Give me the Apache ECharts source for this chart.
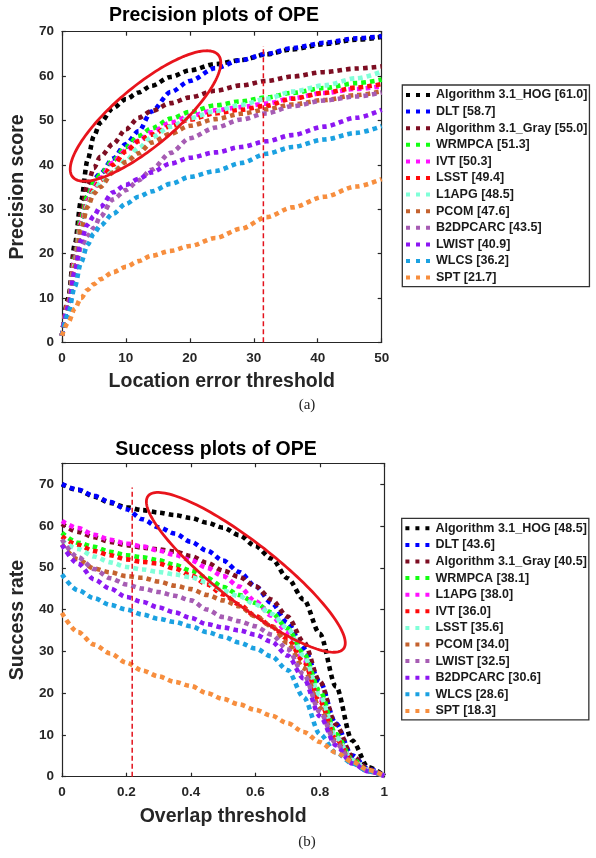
<!DOCTYPE html>
<html>
<head>
<meta charset="utf-8">
<script src="https://cdn.jsdelivr.net/npm/echarts@6/dist/echarts.min.js"></script>
<style>
  html, body { margin: 0; padding: 0; background: #fff; }
  #main { width: 596px; height: 858px; }
</style>
</head>
<body>
<div id="main"></div>
<script>
// ---- (a) precision plot data ----
var precThreshold = [0, 1, 2, 3, 4, 5, 6, 8, 10, 12, 14, 17, 20, 24, 28, 32, 36, 41, 46, 50];
var precHOG      = [1.5, 10, 22, 32, 41, 46.5, 49.5, 52.8, 54.8, 56.3, 57.8, 59.8, 61.3, 62.7, 63.6, 64.9, 66.0, 67.2, 68.2, 68.8];
var precDLT      = [1.5, 9, 19, 28, 33, 36.8, 38, 41.4, 44.7, 47.6, 52.0, 56.4, 58.9, 61.8, 63.6, 65.0, 66.3, 67.5, 68.5, 69.0];
var precGray     = [1.5, 9.5, 20.5, 29, 35.5, 39.3, 41.8, 44.7, 48.0, 50.6, 52.1, 53.9, 55.2, 56.7, 57.9, 58.9, 59.9, 60.9, 61.7, 62.2];
var precWRMPCA   = [1.5, 9, 19, 28, 33, 36, 37.8, 41, 44, 46.5, 48.2, 50.4, 51.9, 53.4, 54.3, 55.2, 56.2, 57.3, 58.4, 59.2];
var precIVT      = [1.5, 9, 18.5, 27, 32, 35, 37, 40.5, 43.3, 45.5, 47.3, 49.5, 51, 52.3, 53, 53.8, 55, 56.2, 57.1, 57.7];
var precLSST     = [1.5, 9, 18, 26.5, 31.5, 34.5, 36.5, 40, 43, 45.3, 46.8, 48.7, 50.2, 51.6, 52.4, 53.3, 54.9, 56.2, 57.4, 58.2];
var precL1APG    = [1.5, 8.5, 17.5, 26, 31, 34, 36, 38.5, 41, 43.8, 46.2, 48.6, 50.5, 52.1, 53.5, 54.9, 56.5, 57.9, 59.5, 61.0];
var precPCOM     = [1.5, 8.5, 17, 25.5, 30.5, 33.5, 35, 38.3, 40.6, 42.6, 45, 47, 48.8, 50.3, 51.5, 52.5, 53.6, 54.6, 55.7, 56.6];
var precB2DPCARC = [1.5, 8, 15.5, 21.5, 24, 25.8, 28.3, 32.2, 34.3, 36.5, 38.9, 42.7, 46, 48.4, 50.2, 51.6, 53.2, 54.5, 55.4, 56.3];
var precLWIST    = [1.5, 8, 16, 23, 26.5, 28.5, 30.5, 33.8, 35.5, 36.8, 38.3, 40.3, 41.6, 42.8, 44, 45.3, 46.7, 48.6, 50.6, 52.4];
var precWLCS     = [1.5, 6.5, 12.5, 18, 22, 24.5, 26.3, 29, 31.2, 32.8, 34, 35.7, 37.3, 38.6, 40.4, 42.5, 44.0, 45.7, 47.2, 48.7];
var precSPT      = [1.5, 4.5, 7.5, 10, 11.8, 13.1, 14.2, 15.8, 17, 18.3, 19.5, 20.6, 21.7, 23.5, 25.6, 28.2, 30.4, 32.8, 35.1, 36.8];
var precLegend = ['Algorithm 3.1_HOG [61.0]', 'DLT [58.7]', 'Algorithm 3.1_Gray [55.0]', 'WRMPCA [51.3]',
  'IVT [50.3]', 'LSST [49.4]', 'L1APG [48.5]', 'PCOM [47.6]', 'B2DPCARC [43.5]', 'LWIST [40.9]', 'WLCS [36.2]', 'SPT [21.7]'];
var precSeries = [precHOG, precDLT, precGray, precWRMPCA, precIVT, precLSST, precL1APG, precPCOM, precB2DPCARC, precLWIST, precWLCS, precSPT];

// ---- (b) success plot data ----
var succThreshold = [0, 0.05, 0.1, 0.15, 0.2, 0.25, 0.3, 0.35, 0.4, 0.45, 0.5, 0.55, 0.6, 0.65, 0.7, 0.75, 0.8, 0.85, 0.9, 0.95, 1];
var succHOG      = [70, 68.6, 67, 65.5, 64.5, 63.8, 63.2, 62.6, 61.9, 60.8, 59.6, 57.8, 55.2, 52.2, 47.5, 42.4, 34.2, 21.6, 8.7, 2.3, 0.2];
var succDLT      = [70, 68.7, 67.2, 65.7, 64, 61.6, 59.7, 58.2, 56.2, 54.1, 51.7, 49, 45.6, 41.6, 36.8, 30.7, 22.8, 12.7, 5.1, 1.9, 0.2];
var succGray     = [60.5, 58.6, 57.3, 56.2, 55.4, 54.8, 54.4, 53.9, 52.8, 51.2, 49.3, 47.8, 45.6, 42.4, 38.3, 32.3, 22.8, 12.5, 5, 1.8, 0.2];
var succWRMPCA   = [58.4, 56, 55, 53.8, 53, 52.5, 51.8, 50.7, 49.3, 47.6, 45.4, 43.5, 41.6, 39.3, 35.5, 29.5, 20.5, 10.2, 4.2, 1.5, 0.2];
var succL1APG    = [61.2, 59.5, 57.9, 56.7, 55.8, 55.1, 54.1, 53.1, 51.8, 50, 48, 45.5, 42, 38.5, 34.5, 28, 18.5, 9.5, 4, 1.5, 0.2];
var succIVT      = [57.5, 55.5, 54, 53, 52, 51.4, 51, 49.8, 48.2, 46, 43.6, 41.2, 38.5, 36, 33, 27.5, 18, 9, 3.8, 1.4, 0.2];
var succLSST     = [56.5, 54.5, 52.7, 51.3, 50.2, 49.6, 49, 48.4, 47.7, 46.5, 44.5, 43.2, 41.2, 39, 35.5, 29, 19.5, 9.5, 4, 1.5, 0.2];
var succPCOM     = [55.6, 52, 49.8, 48.9, 48, 47.6, 46.7, 45.7, 44.9, 43.5, 42.2, 40.8, 38.4, 36, 32, 26, 16.5, 8.5, 3.6, 1.4, 0.2];
var succLWIST    = [56.8, 52.5, 49.7, 47.5, 46, 45, 44.2, 43.3, 42.2, 40, 38.2, 37.2, 36, 34, 30.5, 24.5, 15.5, 8, 3.4, 1.3, 0.2];
var succB2DPCARC = [55.5, 51, 47.2, 45, 43, 41.8, 40.5, 39.3, 38, 36.5, 35.7, 35, 34, 32.3, 29, 23.5, 14.5, 7.5, 3.2, 1.3, 0.2];
var succWLCS     = [48.4, 44.6, 42.7, 41.1, 40, 38.8, 37.8, 37, 36, 34.6, 33.5, 32.1, 30.7, 28.8, 25.5, 19, 10.2, 5.8, 3.2, 1.3, 0.2];
var succSPT      = [39.2, 34.6, 31.6, 29.5, 27.3, 25.4, 24, 22.7, 21.7, 20, 18.6, 17.3, 16, 14.6, 12.8, 10.7, 8.3, 5.8, 3.6, 1.6, 0.2];
var succLegend = ['Algorithm 3.1_HOG [48.5]', 'DLT [43.6]', 'Algorithm 3.1_Gray [40.5]', 'WRMPCA [38.1]',
  'L1APG [38.0]', 'IVT [36.0]', 'LSST [35.6]', 'PCOM [34.0]', 'LWIST [32.5]', 'B2DPCARC [30.6]', 'WLCS [28.6]', 'SPT [18.3]'];
var succSeries = [succHOG, succDLT, succGray, succWRMPCA, succL1APG, succIVT, succLSST, succPCOM, succLWIST, succB2DPCARC, succWLCS, succSPT];

// threshold markers (dashed red) and highlight ellipses
var precMarkX = 31.5, precMarkTop = 66.8;
var succMarkX = 0.218, succMarkTop = 69.2;
var precEllipse = { center: [13.07, 51.0], rx: 95, ry: 30, angle: -40 };
var succEllipse = { center: [0.5705, 48.9], rx: 124, ry: 30, angle: 38 };

var palette = ['#000000', '#0000ff', '#7d0d22', '#12ff12', '#ff10ff', '#ff0a0a', '#80ffd8',
  '#c4622f', '#a65cb3', '#8c17f2', '#1ba1e1', '#f78e3e'];

var FONT = '"Liberation Sans", Arial, Helvetica, sans-serif';
var AXIS_COLOR = '#262626';

var chart = echarts.init(document.getElementById('main'));

function curve(name, xs, ys, color, axisIdx) {
  return {
    name: name,
    type: 'line',
    xAxisIndex: axisIdx,
    yAxisIndex: axisIdx,
    data: xs.map(function (x, i) { return [x, ys[i]]; }),
    smooth: 0.3,
    smoothMonotone: 'x',
    symbol: 'none',
    color: color,
    itemStyle: { color: color },
    lineStyle: { color: color, width: 4.6, type: [4.6, 4], cap: 'butt' },
    emphasis: { disabled: true },
    silent: true
  };
}

function marker(x, top, axisIdx) {
  return {
    name: 'marker' + axisIdx,
    type: 'line',
    xAxisIndex: axisIdx,
    yAxisIndex: axisIdx,
    data: [[x, 0], [x, top]],
    symbol: 'none',
    lineStyle: { color: '#e3121c', width: 1.5, type: [5, 3] },
    silent: true,
    z: 3
  };
}

function mainAxis(dim, grid, min, max, interval, name, gap, extra) {
  var ax = {
    type: 'value', gridIndex: grid, min: min, max: max, interval: interval,
    position: dim === 'x' ? 'bottom' : 'left',
    name: name, nameLocation: 'middle', nameGap: gap,
    nameTextStyle: { fontFamily: FONT, fontSize: 19.5, fontWeight: 'bold', color: AXIS_COLOR },
    axisLine: { show: true, onZero: false, lineStyle: { color: AXIS_COLOR, width: 1.2 } },
    axisTick: { show: true, inside: true, length: 4, lineStyle: { color: AXIS_COLOR, width: 1.2 } },
    axisLabel: { fontFamily: FONT, fontSize: 13.5, fontWeight: 'bold', color: AXIS_COLOR, margin: dim === 'x' ? 9 : 8 },
    splitLine: { show: false }
  };
  if (dim === 'y') ax.nameRotate = 90;
  return Object.assign(ax, extra || {});
}

function frameAxis(dim, grid, min, max, interval) {
  return {
    type: 'value', gridIndex: grid, min: min, max: max, interval: interval,
    position: dim === 'x' ? 'top' : 'right',
    axisLine: { show: true, onZero: false, lineStyle: { color: AXIS_COLOR, width: 1.2 } },
    axisTick: { show: true, inside: true, length: 4, lineStyle: { color: AXIS_COLOR, width: 1.2 } },
    axisLabel: { show: false },
    splitLine: { show: false }
  };
}

function legendFor(names, left, top) {
  return {
    data: names,
    orient: 'vertical',
    left: left,
    top: top,
    icon: 'path://M0 0h4v4H0z M10 0h4v4h-4z M20 0h4v4h-4z',
    itemWidth: 24,
    itemHeight: 4,
    itemGap: 2.6,
    padding: [3, 2, 2, 3.7],
    backgroundColor: '#fff',
    borderColor: '#333',
    borderWidth: 1.3,
    borderRadius: 0,
    selectedMode: false,
    itemStyle: { borderWidth: 0 },
    textStyle: { fontFamily: FONT, fontSize: 12.5, fontWeight: 'bold', color: '#1a1a1a', lineHeight: 14, padding: [0, 0, 0, 1] }
  };
}

var series = [];
precSeries.forEach(function (ys, i) { series.push(curve(precLegend[i], precThreshold, ys, palette[i], 0)); });
series.push(marker(precMarkX, precMarkTop, 0));
succSeries.forEach(function (ys, i) { series.push(curve(succLegend[i], succThreshold, ys, palette[i], 2)); });
series.push(marker(succMarkX, succMarkTop, 2));

var option = {
  animation: false,
  backgroundColor: '#fff',
  grid: [
    { left: 47.7, top: 31.7, width: 334, height: 310.6, containLabel: false },
    { left: 48.3, top: 463.3, width: 336, height: 313.4, containLabel: false }
  ],
  xAxis: [
    mainAxis('x', 0, 0, 50, 10, 'Location error threshold', 29.5),
    frameAxis('x', 0, 0, 50, 10),
    mainAxis('x', 1, 0, 1, 0.2, 'Overlap threshold', 30),
    frameAxis('x', 1, 0, 1, 0.2)
  ],
  yAxis: [
    mainAxis('y', 0, 0, 70, 10, 'Precision score', 30),
    frameAxis('y', 0, 0, 70, 10),
    mainAxis('y', 1, 0, 75, 10, 'Success rate', 30, {
      axisLabel: { fontFamily: FONT, fontSize: 13.5, fontWeight: 'bold', color: AXIS_COLOR, margin: 8,
        formatter: function (v) { return v > 70 ? '' : String(v); } }
    }),
    frameAxis('y', 1, 0, 75, 10)
  ],
  legend: [legendFor(precLegend, 402.3, 85), legendFor(succLegend, 401.7, 518.3)],
  series: series
};
chart.setOption(option);

function ellipse(axisIdx, e) {
  var c = chart.convertToPixel({ xAxisIndex: axisIdx, yAxisIndex: axisIdx }, e.center);
  var a = e.angle * Math.PI / 180;
  var pts = [];
  for (var i = 0; i < 160; i++) {
    var t = i / 160 * Math.PI * 2;
    var u = e.rx * Math.cos(t), v = e.ry * Math.sin(t);
    pts.push([c[0] + u * Math.cos(a) - v * Math.sin(a), c[1] + u * Math.sin(a) + v * Math.cos(a)]);
  }
  return {
    type: 'polygon', silent: true, z: 100,
    shape: { points: pts },
    style: { fill: 'none', stroke: '#e8141c', lineWidth: 2.8 }
  };
}

function label(text, x, y, font, color) {
  return {
    type: 'text', x: x, y: y, silent: true, z: 100,
    style: { text: text, font: font, fill: color, align: 'center', verticalAlign: 'middle' }
  };
}

chart.setOption({
  graphic: [
    label('Precision plots of OPE', 214, 15.5, 'bold 19.5px ' + FONT, '#000'),
    label('Success plots of OPE', 216, 450, 'bold 19.5px ' + FONT, '#000'),
    label('(a)', 307, 405, '15px "Liberation Serif", "DejaVu Serif", serif', '#222'),
    label('(b)', 307, 842, '15px "Liberation Serif", "DejaVu Serif", serif', '#222'),
    ellipse(0, precEllipse),
    ellipse(2, succEllipse)
  ]
});
</script>
</body>
</html>
